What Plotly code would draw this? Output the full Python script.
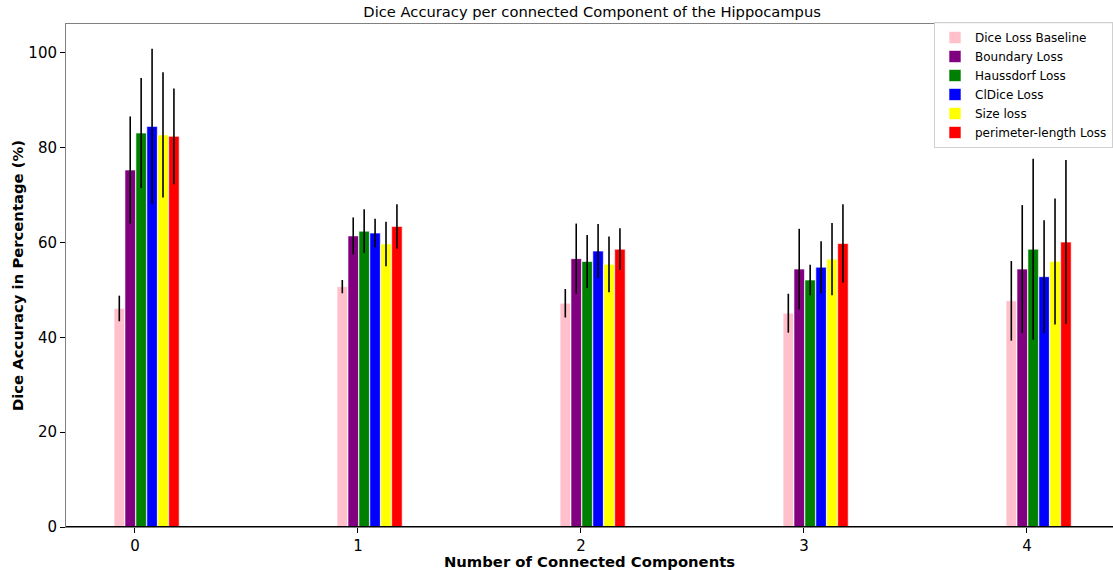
import plotly.graph_objects as go

components = [0, 1, 2, 3, 4]
loss_names = ['Dice Loss Baseline', 'Boundary Loss', 'Haussdorf Loss',
              'ClDice Loss', 'Size loss', 'perimeter-length Loss']
bar_colors = ['#ffc0cb', '#800080', '#008000', '#0000ff', '#ffff00', '#ff0000']

# mean dice accuracy (%) per loss, one value per number of components
dice_baseline = [46.1, 50.7, 47.2, 45.1, 47.7]
boundary = [75.3, 61.4, 56.6, 54.4, 54.4]
haussdorf = [83.1, 62.4, 56.0, 52.1, 58.6]
cldice = [84.5, 62.0, 58.2, 54.8, 52.8]
size_loss = [82.7, 59.7, 55.4, 56.5, 56.0]
perimeter = [82.4, 63.4, 58.6, 59.8, 60.1]

# standard deviations
dice_baseline_std = [2.7, 1.4, 3.0, 4.1, 8.4]
boundary_std = [11.3, 3.9, 7.4, 8.5, 13.5]
haussdorf_std = [11.6, 4.6, 5.6, 3.2, 19.1]
cldice_std = [16.4, 3.0, 5.7, 5.5, 11.9]
size_loss_std = [13.2, 4.7, 5.9, 7.6, 13.3]
perimeter_std = [10.1, 4.7, 4.4, 8.3, 17.3]

means = [dice_baseline, boundary, haussdorf, cldice, size_loss, perimeter]
stds = [dice_baseline_std, boundary_std, haussdorf_std, cldice_std, size_loss_std, perimeter_std]

offsets = [-0.07, -0.021, 0.028, 0.077, 0.126, 0.175]
bar_width = 0.047

fig = go.Figure()
for name, color, off, ys, es in zip(loss_names, bar_colors, offsets, means, stds):
    fig.add_trace(go.Bar(
        x=[c + off for c in components],
        y=ys,
        name=name,
        width=bar_width,
        marker=dict(color=color, line=dict(color='white', width=0.6)),
        error_y=dict(type='data', array=es, visible=True, color='black', thickness=1.6, width=0),
    ))

fig.update_layout(
    width=1113,
    height=570,
    # the axes run past the right edge of the picture, so centre over the full axes width
    title=dict(text='Dice Accuracy per connected Component of the Hippocampus',
               xref='container', x=0.532, xanchor='center', y=0.979, yanchor='middle',
               font=dict(size=14.7, color='#000000')),
    font=dict(family='DejaVu Sans, sans-serif', size=15, color='#000000'),
    margin=dict(l=66, r=0, t=24, b=43),
    plot_bgcolor='#ffffff',
    paper_bgcolor='#ffffff',
    barmode='overlay',
    showlegend=True,
    legend=dict(x=1.0, y=1.004, xanchor='right', yanchor='top',
                bgcolor='rgba(255,255,255,0.9)', bordercolor='#d0d0d0', borderwidth=1,
                font=dict(size=12), traceorder='normal', tracegroupgap=0),
    xaxis=dict(
        range=[-0.309, 4.386],
        tickmode='array', tickvals=components, ticktext=[str(c) for c in components],
        ticks='outside', ticklen=5, tickcolor='#000000',
        showgrid=False, zeroline=False,
        showline=True, linecolor='#808080', linewidth=1, mirror=True,
        title=dict(text='<b>Number of Connected Components</b>', standoff=0, font=dict(size=14.8)),
    ),
    yaxis=dict(
        range=[0, 106.1],
        tickmode='array', tickvals=[0, 20, 40, 60, 80, 100],
        ticks='outside', ticklen=5, tickcolor='#000000',
        showgrid=False, zeroline=False,
        showline=True, linecolor='#808080', linewidth=1,
        title=dict(text='<b>Dice Accuracy in Percentage (%)</b>', standoff=1, font=dict(size=14.8)),
    ),
)

fig.add_shape(type='line', xref='paper', yref='y', x0=0, x1=1, y0=0, y1=0,
              line=dict(color='black', width=2))

fig.write_html('out.html', config={'displayModeBar': False},
               post_script="document.body.style.margin='0';")
